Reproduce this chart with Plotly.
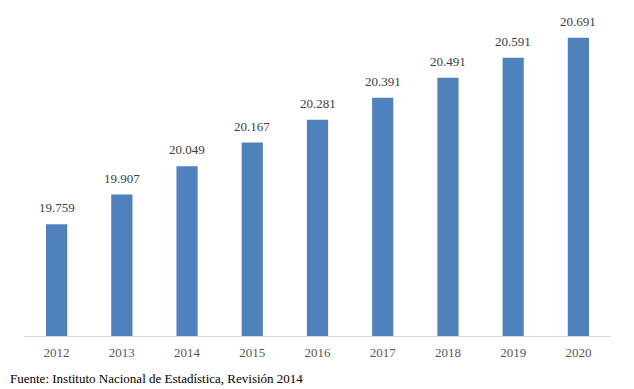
import plotly.graph_objects as go

years = ["2012", "2013", "2014", "2015", "2016", "2017", "2018", "2019", "2020"]
values = [19.759, 19.907, 20.049, 20.167, 20.281, 20.391, 20.491, 20.591, 20.691]
source = "Fuente: Instituto Nacional de Estadística, Revisión 2014"

fig = go.Figure(go.Bar(
    x=years, y=values,
    marker=dict(color="#4f81bd", line=dict(width=0)),
    hoverinfo="x+y",
))

# on a category axis, annotation x is the category's serial number
annotations = [dict(x=i, y=v, xref="x", yref="y", text=f"{v:.3f}",
                    showarrow=False, xanchor="center", yanchor="bottom", yshift=7,
                    font=dict(family="Liberation Serif", size=13, color="#404040"))
               for i, v in enumerate(values)]
annotations.append(dict(text=source, xref="paper", yref="paper", x=-16/587, y=-42/320,
                        xanchor="left", yanchor="middle", showarrow=False,
                        font=dict(family="Liberation Serif", size=13, color="black")))

# the page body has an 8px margin, so the figure is sized to fit the window
fig.update_layout(
    width=626, height=381,
    margin=dict(l=16, r=23, t=8, b=53),
    paper_bgcolor="white", plot_bgcolor="white",
    bargap=0.675,
    showlegend=False,
    font=dict(family="Liberation Serif", size=13, color="#595959"),
    xaxis=dict(type="category", range=[-0.5, 8.5], showline=True, linecolor="#d9d9d9",
               linewidth=1, ticks="outside", ticklen=4, tickcolor="rgba(0,0,0,0)",
               showgrid=False,
               tickfont=dict(family="Liberation Serif", size=13, color="#595959")),
    yaxis=dict(range=[19.2, 20.8], visible=False, showgrid=False),
    annotations=annotations,
)

fig.write_html("out.html")
